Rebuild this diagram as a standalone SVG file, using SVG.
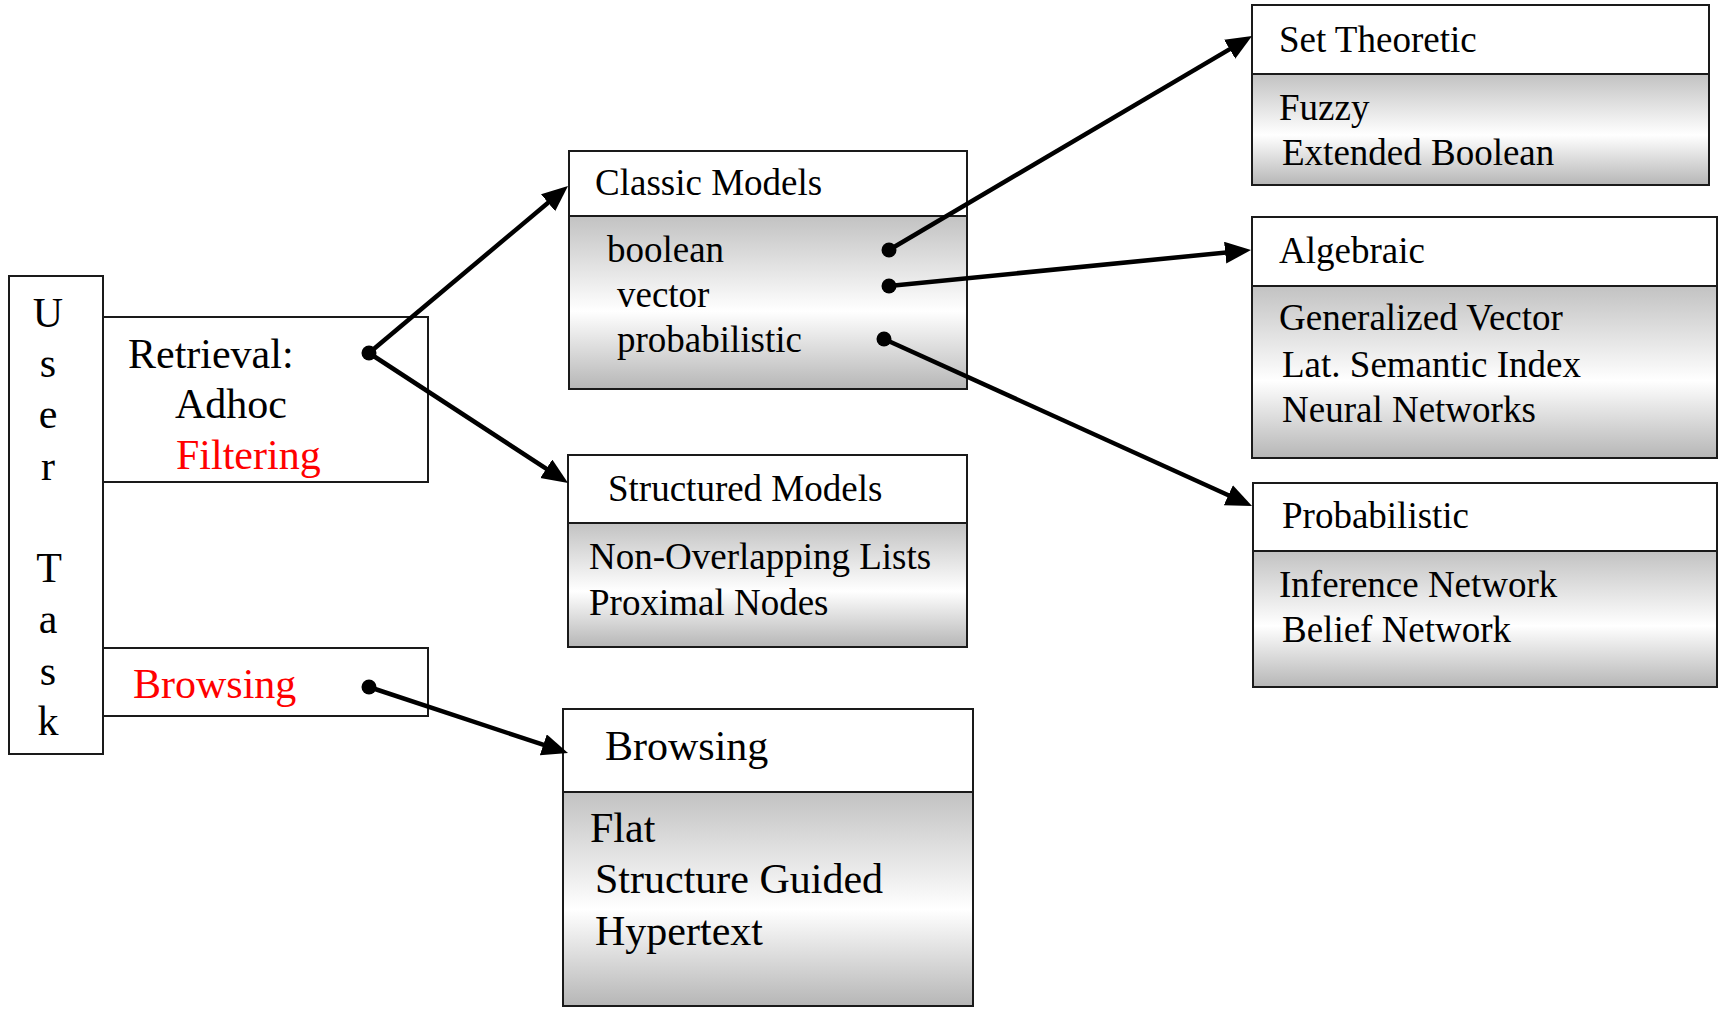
<svg xmlns="http://www.w3.org/2000/svg" width="1719" height="1009" viewBox="0 0 1719 1009">
<style>
text{font-family:"Liberation Serif","Times New Roman",serif;fill:#000}
.h{font-size:37px}
.b{font-size:42px}
.red{fill:#ff0000}
.box{fill:#fff;stroke:#1a1a1a;stroke-width:2}
.body{fill:url(#g);stroke:#1a1a1a;stroke-width:2}
.conn{stroke:#000;stroke-width:4.5;fill:none}
.dot{fill:#000}
</style>
<defs>
<linearGradient id="g" x1="0" y1="0" x2="0" y2="1">
<stop offset="0" stop-color="#c2c2c2"/>
<stop offset="0.55" stop-color="#ffffff"/>
<stop offset="1" stop-color="#b6b6b6"/>
</linearGradient>
<marker id="ah" markerUnits="userSpaceOnUse" markerWidth="28" markerHeight="24" refX="14" refY="11" orient="auto" viewBox="0 0 28 24">
<path d="M0,0 L26,11 L0,22 z" fill="#000"/>
</marker>
</defs>

<g id="user-task">
<rect class="box" x="9" y="276" width="94" height="478"/>
<g class="b" text-anchor="middle">
<text x="48" y="327">U</text>
<text x="48" y="377">s</text>
<text x="48" y="428">e</text>
<text x="48" y="480">r</text>
<text x="49" y="582">T</text>
<text x="48" y="633">a</text>
<text x="48" y="685">s</text>
<text x="48" y="735">k</text>
</g>
</g>

<g id="retrieval">
<rect class="box" x="103" y="317" width="325" height="165"/>
<text class="b" x="128" y="368">Retrieval:</text>
<text class="b" x="175" y="418">Adhoc</text>
<text class="b red" x="176" y="469">Filtering</text>
</g>

<g id="browsing-task">
<rect class="box" x="103" y="648" width="325" height="68"/>
<text class="b red" x="133" y="698">Browsing</text>
</g>

<g id="classic-models">
<rect class="box" x="569" y="151" width="398" height="65"/>
<rect class="body" x="569" y="216" width="398" height="173"/>
<text class="h" x="595" y="195">Classic Models</text>
<text class="h" x="607" y="262">boolean</text>
<text class="h" x="617" y="307">vector</text>
<text class="h" x="617" y="352">probabilistic</text>
</g>

<g id="structured-models">
<rect class="box" x="568" y="455" width="399" height="68"/>
<rect class="body" x="568" y="523" width="399" height="124"/>
<text class="h" x="608" y="501">Structured Models</text>
<text class="h" x="589" y="569">Non-Overlapping Lists</text>
<text class="h" x="589" y="615">Proximal Nodes</text>
</g>

<g id="browsing">
<rect class="box" x="563" y="709" width="410" height="83"/>
<rect class="body" x="563" y="792" width="410" height="214"/>
<text class="b" x="605" y="760">Browsing</text>
<text class="b" x="590" y="842">Flat</text>
<text class="b" x="595" y="893">Structure Guided</text>
<text class="b" x="595" y="945">Hypertext</text>
</g>

<g id="set-theoretic">
<rect class="box" x="1252" y="5" width="457" height="69"/>
<rect class="body" x="1252" y="74" width="457" height="111"/>
<text class="h" x="1279" y="52">Set Theoretic</text>
<text class="h" x="1279" y="120">Fuzzy</text>
<text class="h" x="1282" y="165">Extended Boolean</text>
</g>

<g id="algebraic">
<rect class="box" x="1252" y="217" width="465" height="69"/>
<rect class="body" x="1252" y="286" width="465" height="172"/>
<text class="h" x="1279" y="263">Algebraic</text>
<text class="h" x="1279" y="330">Generalized Vector</text>
<text class="h" x="1282" y="377">Lat. Semantic Index</text>
<text class="h" x="1282" y="422">Neural Networks</text>
</g>

<g id="probabilistic">
<rect class="box" x="1253" y="483" width="464" height="68"/>
<rect class="body" x="1253" y="551" width="464" height="136"/>
<text class="h" x="1282" y="528">Probabilistic</text>
<text class="h" x="1279" y="597">Inference Network</text>
<text class="h" x="1282" y="642">Belief Network</text>
</g>

<g id="connectors">
<path class="conn" d="M369,353 L558.8,193.7" marker-end="url(#ah)"/>
<path class="conn" d="M369,353 L558.0,476.4" marker-end="url(#ah)"/>
<path class="conn" d="M369,687 L556.6,749.2" marker-end="url(#ah)"/>
<path class="conn" d="M889,250 L1241.7,42.1" marker-end="url(#ah)"/>
<path class="conn" d="M889,286 L1239.1,251.2" marker-end="url(#ah)"/>
<path class="conn" d="M884,339 L1241.1,501.0" marker-end="url(#ah)"/>
<circle class="dot" cx="369" cy="353" r="7.5"/>
<circle class="dot" cx="369" cy="687" r="7.5"/>
<circle class="dot" cx="889" cy="250" r="7.5"/>
<circle class="dot" cx="889" cy="286" r="7.5"/>
<circle class="dot" cx="884" cy="339" r="7.5"/>
</g>
</svg>
